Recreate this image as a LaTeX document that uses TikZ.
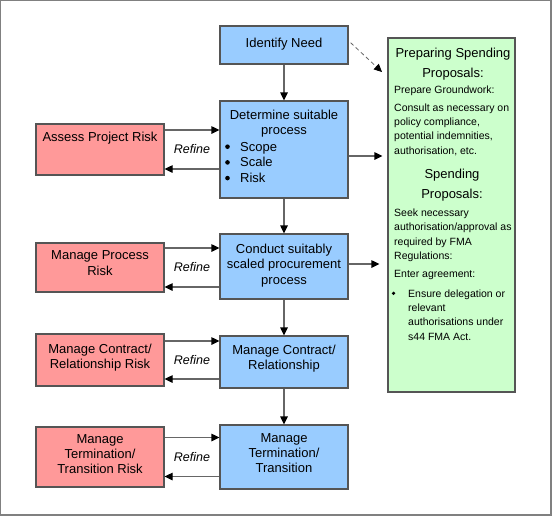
\documentclass[tikz,border=0pt]{standalone}
\usepackage{fontspec}
\setmainfont{Liberation Sans}
\usetikzlibrary{arrows.meta,calc}
\definecolor{cBlue}{HTML}{99CCFF}
\definecolor{cRed}{HTML}{FF9999}
\definecolor{cGreen}{HTML}{CCFFCC}
\definecolor{cEdge}{HTML}{555555}
\definecolor{cConn}{HTML}{666666}
\definecolor{cFrame}{HTML}{808080}
\begin{document}
\begin{tikzpicture}[x=1pt,y=-1pt,
  box/.style={draw=cEdge, line width=1.2pt, minimum width=128pt, inner sep=0pt},
  blueblk/.style={box, fill=cBlue, minimum height=#1},
  redblk/.style={box, fill=cRed, minimum height=#1},
  btxt/.style={font=\fontsize{13}{15.2}\selectfont, align=center, inner sep=0pt, anchor=north},
  htxt/.style={font=\fontsize{13}{20}\selectfont, align=center, inner sep=0pt, anchor=north},
  stxt/.style={font=\fontsize{10.5}{14.3}\selectfont, align=left, inner sep=0pt, anchor=north west},
  refine/.style={font=\fontsize{12.5}{15}\selectfont\itshape, inner sep=0pt},
  conn/.style={draw=cConn, line width=1.2pt, -{Triangle[length=8pt,width=7.5pt,color=black]}}
]
\useasboundingbox (0,0) rectangle (553,517);
% outer frame
\draw[cFrame, line width=1pt] (0.5,514.7) -- (0.5,0.5) -- (551.3,0.5);
\draw[cFrame, line width=2pt] (551.3,0) -- (551.3,514.7) -- (0,514.7);

% blue boxes
\node[blueblk=38pt] (idn) at (284,45) {};
\node[blueblk=97pt] (det) at (284,149.5) {};
\node[blueblk=65pt] (con) at (284,266.5) {};
\node[blueblk=52pt] (mcr) at (284,362) {};
\node[blueblk=64pt] (mtt) at (284,457) {};
% red boxes
\node[redblk=51pt] (apr) at (100,149.5) {};
\node[redblk=49pt] (mpr) at (100,267.5) {};
\node[redblk=52pt] (mcrr) at (100,360) {};
\node[redblk=60pt] (mttr) at (100,457) {};
% green box
\node[draw=cEdge, fill=cGreen, line width=1.2pt, minimum width=127pt, minimum height=354pt, inner sep=0pt] (grn) at (451.5,215) {};

% blue texts
\node[btxt, anchor=base] (idn-t) at (284,47.9) {Identify Need};
\node[btxt] (det-t) at (284,110) {Determine suitable\\process};
\fill (227.5,146.7) circle (2.3);
\fill (227.5,162.4) circle (2.3);
\fill (227.5,178.1) circle (2.3);
\node[btxt, anchor=base west] (det-b1) at (240,151.2) {Scope};
\node[btxt, anchor=base west] (det-b2) at (240,166.9) {Scale};
\node[btxt, anchor=base west] (det-b3) at (240,182.6) {Risk};
\node[btxt] (con-t) at (284,244) {Conduct suitably\\scaled procurement\\process};
\node[btxt] (mcr-t) at (284,345) {Manage Contract/\\Relationship};
\node[btxt] (mtt-t) at (284,433.3) {Manage\\Termination/\\Transition};
% red texts
\node[btxt, anchor=base] (apr-t) at (100,141.9) {Assess Project Risk};
\node[btxt] (mpr-t) at (100,250.7) {Manage Process\\Risk};
\node[btxt] (mcrr-t) at (100,343.4) {Manage Contract/\\Relationship Risk};
\node[btxt] (mttr-t) at (100,434) {Manage\\Termination/\\Transition Risk};

% green texts
\node[htxt] (g-h1) at (453,47.4) {Preparing Spending\\Proposals:};
\node[stxt] (g-p1) at (394,86) {Prepare Groundwork:};
\node[stxt] (g-p2) at (394,103.3) {Consult as necessary on\\policy compliance,\\potential indemnities,\\authorisation, etc.};
\node[htxt] (g-h2) at (452,168.4) {Spending\\Proposals:};
\node[stxt] (g-p3) at (394,208.7) {Seek necessary\\authorisation/approval as\\required by FMA\\Regulations:};
\node[stxt] (g-p4) at (394,270) {Enter agreement:};
\fill (393.5,293.3) circle (1.8);
\node[stxt] (g-p5) at (408,289.3) {Ensure delegation or\\relevant\\authorisations under\\s44 FMA Act.};

% vertical arrows
\draw[conn] (idn) -- (det);
\draw[conn] (det) -- (con);
\draw[conn] (con) -- (mcr);
\draw[conn] (mcr) -- (mtt);

% risk loops
\foreach \r/\b/\d in {apr/det/19.5, mpr/con/19.5, mcrr/mcr/19, mttr/mtt/19.5} {
  \coordinate (\r-hi) at ([yshift=\d pt]\r.east);
  \coordinate (\r-lo) at ([yshift=-\d pt]\r.east);
  \draw[conn] (\r-hi) -- (\r-hi -| \b.west);
  \draw[conn] (\r-lo -| \b.west) -- (\r-lo);
}
\node[refine] (ref1) at (192,149) {Refine};
\node[refine] (ref2) at (192,267) {Refine};
\node[refine] (ref3) at (192,360) {Refine};
\node[refine] (ref4) at (192,457) {Refine};

% to green box
\coordinate (d1) at ([yshift=-6.5pt]det.east);
\draw[conn, shorten >=5pt] (d1) -- (d1 -| grn.west);
\coordinate (c1) at ([yshift=2.5pt]con.east);
\draw[conn, shorten >=8pt] (c1) -- (c1 -| grn.west);
\coordinate (dashend) at (382,72);
\draw[conn, line width=0.8pt, dash pattern=on 4pt off 3pt] ([xshift=2pt,yshift=2.3pt]idn.east) -- (dashend);
\end{tikzpicture}
\end{document}
